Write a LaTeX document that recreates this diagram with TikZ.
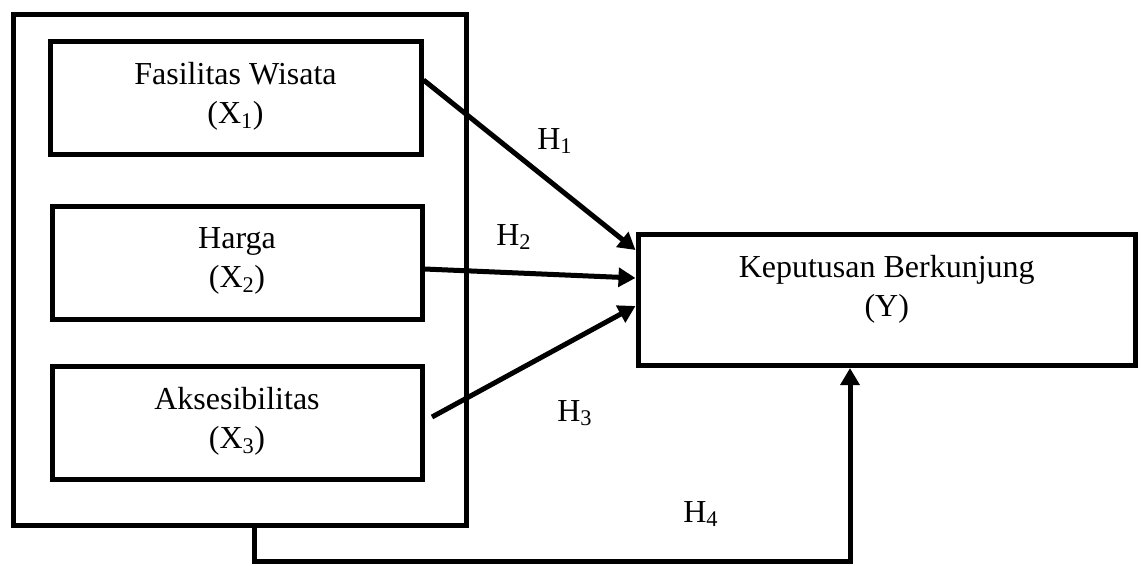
\documentclass[tikz,border=0pt]{standalone}
\usepackage{fontspec}
\setmainfont{Liberation Serif}
\usetikzlibrary{arrows.meta}
\begin{document}
\begin{tikzpicture}[x=0.75pt,y=-0.75pt,
  box/.style={draw, line width=3.75pt, inner sep=0pt, align=center, font=\fontsize{24}{29}\selectfont},
  txt/.style={inner sep=0pt, align=center, font=\fontsize{24}{29}\selectfont},
  arr/.style={line width=3.75pt, -{Triangle[length=12.75pt,width=14pt]}},
  lbl/.style={font=\fontsize{24}{29}\selectfont, anchor=base west, inner sep=0pt}]
\useasboundingbox (0,0) rectangle (1146,565);
\node[box, minimum width=453*0.75pt, minimum height=511*0.75pt] (outer) at (239.5,269.5) {};
\node[box, minimum width=371*0.75pt, minimum height=113*0.75pt] (X1) at (235.5,97.5) {};
\node[txt] (X1t) at (235.5,96) {Fasilitas Wisata\\(X\textsubscript{1})};
\node[box, minimum width=370*0.75pt, minimum height=113*0.75pt] (X2) at (237,262.5) {};
\node[txt] (X2t) at (237,261) {Harga\\(X\textsubscript{2})};
\node[box, minimum width=370*0.75pt, minimum height=113*0.75pt] (X3) at (237,422.5) {};
\node[txt] (X3t) at (237,421) {Aksesibilitas\\(X\textsubscript{3})};
\node[box, minimum width=497.5*0.75pt, minimum height=131*0.75pt] (Y) at (886.75,300) {};
\node[txt] (Yt) at (886.75,289) {Keputusan Berkunjung\\(Y)};
\draw[arr] (X1.east |- 0,80) -- (Y.west |- 0,250);
\draw[arr] (X2.east |- 0,269) -- (Y.west |- 0,278);
\coordinate (h3s) at (432,417);
\draw[arr] (h3s) -- (Y.west |- 0,306);
\coordinate (b1) at (254,561.5);
\coordinate (b2) at (850,561.5);
\draw[arr] (outer.south -| b1) -- (b1) -- (b2) -- (Y.south -| b2);
\node[lbl] (H1) at (537,149) {H\textsubscript{1}};
\node[lbl] (H2) at (496,245) {H\textsubscript{2}};
\node[lbl] (H3) at (557,421) {H\textsubscript{3}};
\node[lbl] (H4) at (683,522) {H\textsubscript{4}};
\end{tikzpicture}
\end{document}
